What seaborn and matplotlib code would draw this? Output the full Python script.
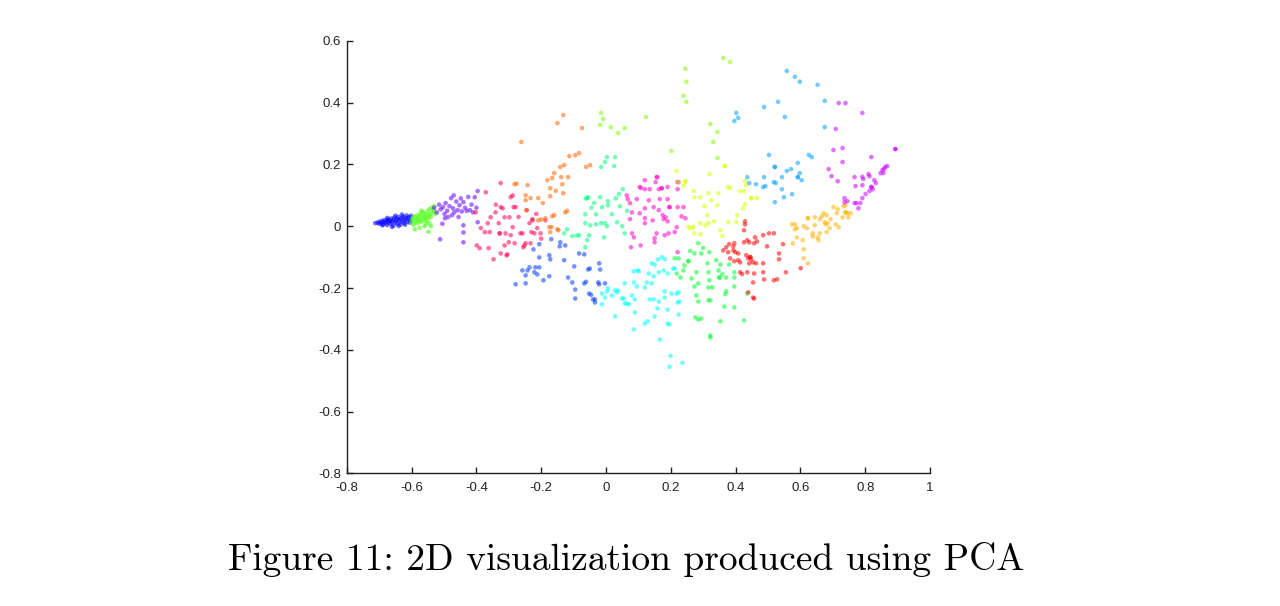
import numpy as np
import pandas as pd
import matplotlib
matplotlib.use("Agg")
import matplotlib.pyplot as plt
import seaborn as sns

# ---- data: PCA 2-D embedding, one list of (x, y) per cluster ----
blue = [(-0.712,0.010),(-0.705,0.012),(-0.700,0.008),(-0.698,0.015),(-0.694,0.011),(-0.690,0.018),(-0.688,0.006),(-0.685,0.014),(-0.682,0.020),(-0.680,0.010),(-0.677,0.016),(-0.675,0.004),(-0.672,0.022),(-0.670,0.013),(-0.668,0.018),(-0.665,0.008),(-0.663,0.025),(-0.660,0.015),(-0.658,0.020),(-0.656,0.002),(-0.653,0.028),(-0.651,0.012),(-0.648,0.018),(-0.646,0.024),(-0.644,0.008),(-0.641,0.030),(-0.639,0.016),(-0.637,0.022),(-0.634,0.005),(-0.632,0.026),(-0.630,0.014),(-0.627,0.032),(-0.625,0.019),(-0.622,0.010),(-0.620,0.028),(-0.618,0.022),(-0.615,0.035),(-0.613,0.015),(-0.610,0.025),(-0.608,0.030),(-0.606,0.012),(-0.603,0.020),(-0.601,0.034),(-0.660,-0.002),(-0.640,0.001),(-0.620,0.005),(-0.690,0.003),(-0.675,0.027),(-0.650,0.034),(-0.630,0.038)]
green = [(-0.600,0.015),(-0.598,0.025),(-0.595,0.005),(-0.592,0.030),(-0.590,0.018),(-0.587,0.010),(-0.585,0.035),(-0.582,0.022),(-0.580,0.028),(-0.578,0.012),(-0.575,0.040),(-0.573,0.020),(-0.570,0.032),(-0.568,0.015),(-0.565,0.045),(-0.563,0.025),(-0.560,0.038),(-0.558,0.030),(-0.555,0.018),(-0.552,0.048),(-0.550,0.035),(-0.548,0.025),(-0.545,0.055),(-0.543,0.040),(-0.540,0.030),(-0.538,0.060),(-0.535,0.045),(-0.532,0.052),(-0.530,0.065),(-0.527,0.040),(-0.545,0.010),(-0.560,0.000),(-0.575,-0.005),(-0.590,-0.010),(-0.548,-0.018),(-0.540,0.000),(-0.555,0.008),(-0.570,0.050)]
violet = [(-0.530,0.060),(-0.522,0.045),(-0.515,0.070),(-0.510,0.055),(-0.503,0.062),(-0.498,0.040),(-0.495,0.075),(-0.490,0.050),(-0.487,0.030),(-0.483,0.065),(-0.478,0.091),(-0.475,0.036),(-0.472,0.058),(-0.468,0.045),(-0.462,0.080),(-0.458,0.052),(-0.452,0.068),(-0.448,0.090),(-0.445,0.048),(-0.440,0.078),(-0.440,0.003),(-0.440,-0.020),(-0.440,-0.052),(-0.512,-0.042),(-0.435,0.060),(-0.430,0.050),(-0.425,0.095),(-0.420,0.052),(-0.415,0.070),(-0.410,0.045),(-0.405,0.094),(-0.400,0.060),(-0.396,0.114),(-0.396,0.013),(-0.470,0.100),(-0.455,0.030),(-0.497,0.026),(-0.505,0.008)]
pink = [(-0.371,0.110),(-0.402,0.045),(-0.386,-0.006),(-0.374,-0.019),(-0.359,-0.019),(-0.399,-0.062),(-0.390,-0.071),(-0.362,-0.071),(-0.347,-0.107),(-0.356,0.029),(-0.341,0.045),(-0.325,0.140),(-0.331,0.010),(-0.325,0.062),(-0.313,0.029),(-0.310,-0.023),(-0.325,-0.088),(-0.307,-0.094),(-0.298,0.029),(-0.294,0.094),(-0.288,0.100),(-0.288,-0.003),(-0.294,-0.029),(-0.282,-0.055),(-0.300,-0.052),(-0.313,-0.062),(-0.279,0.062),(-0.264,-0.023),(-0.252,-0.062),(-0.255,-0.068),(-0.236,0.010),(-0.230,-0.019),(-0.221,-0.023),(-0.212,-0.006),(-0.233,-0.055),(-0.227,0.019),(-0.202,-0.023),(-0.187,0.019),(-0.328,-0.023),(-0.328,-0.023),(-0.285,0.062),(-0.258,-0.023),(-0.248,-0.055),(-0.227,0.023),(-0.245,0.052),(-0.304,-0.091),(-0.340,0.070),(-0.365,0.010),(-0.270,0.030),(-0.200,-0.040),(-0.215,0.040),(-0.319,0.058)]
orange = [(-0.261,0.273),(-0.282,0.136),(-0.276,0.138),(-0.242,0.133),(-0.248,0.100),(-0.248,0.084),(-0.233,0.091),(-0.209,0.091),(-0.245,0.052),(-0.209,0.019),(-0.200,0.022),(-0.187,0.026),(-0.181,0.149),(-0.166,0.156),(-0.160,0.172),(-0.172,0.097),(-0.172,0.123),(-0.150,0.334),(-0.132,0.360),(-0.074,0.318),(-0.141,0.192),(-0.129,0.198),(-0.138,0.159),(-0.135,0.136),(-0.132,0.107),(-0.113,0.227),(-0.095,0.230),(-0.083,0.237),(-0.061,0.192),(-0.049,0.198),(-0.117,0.159),(-0.166,0.032),(-0.160,0.036),(-0.175,-0.003),(-0.168,-0.003),(-0.172,-0.019),(-0.150,-0.010),(-0.126,0.045),(-0.120,0.050),(-0.147,-0.013),(-0.195,0.075),(-0.155,0.115)]
royal = [(-0.169,-0.042),(-0.141,-0.052),(-0.126,-0.062),(-0.143,-0.065),(-0.206,-0.058),(-0.224,-0.075),(-0.175,-0.094),(-0.172,-0.107),(-0.206,-0.101),(-0.236,-0.133),(-0.242,-0.143),(-0.258,-0.143),(-0.248,-0.159),(-0.221,-0.149),(-0.218,-0.133),(-0.206,-0.133),(-0.212,-0.156),(-0.279,-0.188),(-0.248,-0.185),(-0.193,-0.175),(-0.175,-0.162),(-0.129,-0.110),(-0.098,-0.130),(-0.117,-0.166),(-0.104,-0.182),(-0.095,-0.205),(-0.095,-0.234),(-0.083,-0.088),(-0.067,-0.091),(-0.055,-0.140),(-0.050,-0.137),(-0.067,-0.185),(-0.062,-0.180),(-0.052,-0.218),(-0.046,-0.222),(-0.040,-0.237),(-0.034,-0.247),(-0.021,-0.120),(-0.018,-0.140),(-0.024,-0.182),(-0.021,-0.188),(-0.003,-0.185),(-0.034,-0.237)]
aqua = [(-0.015,0.192),(-0.003,0.208),(0.003,0.224),(0.028,0.224),(0.025,0.195),(-0.055,0.094),(-0.062,0.090),(-0.037,0.075),(-0.018,0.094),(-0.045,0.060),(-0.064,0.039),(-0.031,0.039),(-0.012,0.062),(0.006,0.081),(0.006,0.068),(0.018,0.039),(0.040,0.104),(0.030,0.090),(0.052,0.120),(0.043,0.065),(-0.064,0.010),(-0.049,0.003),(-0.031,0.006),(-0.015,0.010),(-0.003,0.010),(0.003,0.000),(0.034,0.013),(0.058,-0.023),(-0.052,-0.029),(-0.058,-0.045),(-0.064,-0.068),(-0.083,-0.029),(-0.104,-0.032),(-0.129,-0.023),(-0.120,-0.010),(-0.006,-0.036),(-0.090,-0.030),(-0.058,0.091),(0.065,0.050),(0.050,0.000)]
lime = [(-0.015,0.367),(-0.009,0.347),(-0.018,0.328),(0.015,0.321),(0.037,0.302),(0.058,0.318),(0.123,0.354),(0.245,0.510),(0.248,0.468),(0.239,0.422),(0.248,0.403),(0.362,0.545),(0.383,0.532),(0.322,0.331),(0.344,0.305),(0.331,0.273),(0.202,0.244),(0.344,0.221)]
magenta = [(0.120,0.149),(0.153,0.143),(0.156,0.159),(0.104,0.127),(0.108,0.124),(0.120,0.120),(0.135,0.120),(0.163,0.120),(0.172,0.123),(0.190,0.127),(0.221,0.143),(0.221,0.120),(0.064,0.100),(0.067,0.088),(0.095,0.088),(0.132,0.084),(0.166,0.088),(0.190,0.088),(0.074,0.075),(0.120,0.058),(0.147,0.062),(0.196,0.062),(0.221,0.062),(0.239,0.062),(0.080,0.045),(0.104,0.042),(0.175,0.036),(0.184,0.029),(0.163,0.052),(0.074,0.023),(0.120,0.026),(0.120,0.010),(0.144,0.019),(0.178,0.023),(0.190,0.016),(0.233,0.032),(0.245,0.026),(0.218,-0.003),(0.080,-0.023),(0.086,-0.036),(0.107,-0.062),(0.077,-0.068),(0.156,-0.023),(0.150,-0.039),(0.150,-0.052),(0.181,-0.029),(0.193,-0.023),(0.212,-0.019),(0.221,-0.084),(0.172,0.123),(0.159,0.159),(0.224,0.143),(0.196,0.062)]
cyan = [(0.172,-0.100),(0.160,-0.107),(0.182,-0.107),(0.150,-0.124),(0.141,-0.120),(0.212,-0.137),(0.178,-0.143),(0.163,-0.149),(0.098,-0.143),(0.086,-0.146),(0.132,-0.153),(0.147,-0.162),(0.190,-0.153),(0.058,-0.185),(0.037,-0.208),(0.028,-0.208),(0.003,-0.211),(0.018,-0.224),(0.086,-0.182),(0.095,-0.195),(0.126,-0.182),(0.141,-0.185),(0.120,-0.198),(0.181,-0.211),(0.202,-0.218),(0.224,-0.214),(0.227,-0.244),(0.221,-0.247),(0.181,-0.231),(0.163,-0.244),(0.147,-0.237),(0.135,-0.237),(0.089,-0.237),(0.080,-0.224),(0.055,-0.234),(0.058,-0.250),(0.071,-0.253),(-0.003,-0.231),(-0.012,-0.253),(0.089,-0.279),(0.190,-0.270),(0.224,-0.286),(0.159,-0.266),(0.150,-0.292),(0.028,-0.292),(0.120,-0.315),(0.129,-0.308),(0.190,-0.315),(0.196,-0.318),(0.086,-0.334),(0.166,-0.367),(0.199,-0.419),(0.196,-0.455),(0.236,-0.442),(0.006,-0.201),(-0.012,-0.218),(0.034,-0.214),(0.049,-0.234),(0.064,-0.250),(0.101,-0.146),(0.218,-0.218),(0.208,-0.137)]
green2 = [(0.254,-0.113),(0.254,-0.113),(0.273,-0.088),(0.294,-0.088),(0.319,-0.084),(0.285,-0.055),(0.212,-0.104),(0.224,-0.104),(0.242,-0.127),(0.239,-0.143),(0.230,-0.166),(0.218,-0.153),(0.264,-0.169),(0.279,-0.149),(0.285,-0.185),(0.273,-0.195),(0.316,-0.149),(0.319,-0.175),(0.316,-0.198),(0.328,-0.198),(0.313,-0.120),(0.340,-0.110),(0.353,-0.124),(0.347,-0.143),(0.350,-0.166),(0.350,-0.166),(0.359,-0.155),(0.371,-0.166),(0.380,-0.124),(0.396,-0.149),(0.396,-0.166),(0.396,-0.195),(0.371,-0.211),(0.368,-0.220),(0.279,-0.224),(0.285,-0.244),(0.316,-0.240),(0.322,-0.240),(0.365,-0.260),(0.396,-0.263),(0.276,-0.295),(0.294,-0.299),(0.285,-0.302),(0.353,-0.308),(0.426,-0.305),(0.322,-0.354),(0.322,-0.360),(0.436,-0.218),(0.300,-0.070),(0.260,-0.080)]
yellow = [(0.224,0.143),(0.245,0.143),(0.270,0.114),(0.273,0.094),(0.291,0.094),(0.316,0.107),(0.347,0.107),(0.319,0.169),(0.368,0.195),(0.377,0.127),(0.383,0.124),(0.414,0.114),(0.426,0.114),(0.429,0.146),(0.433,0.133),(0.448,0.091),(0.466,0.091),(0.429,0.071),(0.304,0.065),(0.325,0.084),(0.344,0.068),(0.313,0.036),(0.334,0.016),(0.405,0.036),(0.402,0.013),(0.377,0.013),(0.255,-0.003),(0.262,-0.006),(0.270,-0.003),(0.291,0.010),(0.307,0.003),(0.316,0.010),(0.273,-0.023),(0.291,-0.026),(0.353,-0.013),(0.359,-0.032),(0.423,0.058),(0.218,0.179),(0.245,0.146),(0.239,0.130),(0.365,0.195),(0.448,0.091)]
red = [(0.371,-0.068),(0.380,-0.058),(0.393,-0.065),(0.396,-0.055),(0.362,-0.078),(0.377,-0.084),(0.393,-0.078),(0.399,-0.084),(0.408,-0.088),(0.383,-0.104),(0.396,-0.113),(0.408,-0.110),(0.414,-0.117),(0.433,-0.094),(0.439,-0.104),(0.445,-0.100),(0.448,-0.107),(0.454,-0.117),(0.442,-0.120),(0.463,-0.120),(0.485,-0.120),(0.426,-0.052),(0.436,-0.045),(0.442,-0.052),(0.457,-0.055),(0.460,-0.036),(0.466,-0.049),(0.485,-0.029),(0.497,-0.065),(0.503,-0.023),(0.518,-0.023),(0.546,-0.058),(0.426,-0.013),(0.429,0.016),(0.429,0.006),(0.414,-0.149),(0.420,-0.155),(0.436,-0.149),(0.457,-0.153),(0.454,-0.182),(0.485,-0.149),(0.488,-0.172),(0.457,-0.234),(0.518,-0.175),(0.528,-0.172),(0.534,-0.088),(0.534,-0.107),(0.555,-0.149),(0.601,-0.136),(0.439,-0.214),(0.454,-0.231),(0.445,-0.100)]
sky = [(0.558,0.503),(0.583,0.484),(0.598,0.468),(0.653,0.458),(0.675,0.406),(0.675,0.321),(0.531,0.403),(0.488,0.386),(0.552,0.354),(0.402,0.367),(0.396,0.341),(0.408,0.351),(0.503,0.231),(0.626,0.231),(0.635,0.224),(0.521,0.192),(0.592,0.205),(0.571,0.185),(0.558,0.179),(0.598,0.172),(0.592,0.159),(0.604,0.149),(0.543,0.159),(0.488,0.159),(0.518,0.143),(0.524,0.140),(0.485,0.127),(0.492,0.130),(0.463,0.136),(0.442,0.140),(0.436,0.159),(0.543,0.120),(0.549,0.094),(0.574,0.104),(0.521,0.078),(0.521,0.192),(0.592,0.159)]
amber = [(0.574,0.006),(0.583,0.006),(0.583,-0.010),(0.589,-0.006),(0.577,-0.055),(0.589,-0.036),(0.607,-0.045),(0.610,-0.075),(0.610,-0.104),(0.623,-0.120),(0.610,0.000),(0.620,-0.006),(0.623,0.026),(0.638,-0.023),(0.638,-0.033),(0.644,0.003),(0.653,-0.036),(0.656,-0.045),(0.660,-0.023),(0.644,0.029),(0.660,0.023),(0.672,0.042),(0.666,0.032),(0.681,0.036),(0.675,0.013),(0.684,0.010),(0.678,0.006),(0.681,-0.019),(0.690,-0.006),(0.693,0.023),(0.702,0.062),(0.712,0.042),(0.718,-0.003),(0.709,0.006),(0.730,0.029),(0.739,0.045),(0.745,0.042),(0.748,0.029),(0.755,0.042),(0.739,0.068),(0.733,0.065),(0.715,0.055),(0.623,0.026),(0.739,0.045)]
purple = [(0.718,0.399),(0.739,0.399),(0.791,0.367),(0.709,0.315),(0.702,0.247),(0.730,0.253),(0.819,0.224),(0.730,0.208),(0.687,0.185),(0.696,0.162),(0.715,0.146),(0.767,0.159),(0.770,0.130),(0.791,0.133),(0.794,0.153),(0.791,0.160),(0.810,0.169),(0.813,0.162),(0.828,0.149),(0.833,0.140),(0.819,0.127),(0.823,0.120),(0.813,0.114),(0.847,0.172),(0.853,0.182),(0.858,0.186),(0.856,0.172),(0.862,0.192),(0.868,0.195),(0.893,0.250),(0.801,0.104),(0.791,0.091),(0.785,0.075),(0.773,0.075),(0.767,0.075),(0.779,0.058),(0.736,0.091),(0.745,0.081),(0.736,0.078),(0.819,0.127),(0.893,0.250)]

cluster_names = ["blue", "green", "violet", "pink", "orange", "royal", "aqua", "lime",
                 "magenta", "cyan", "green2", "yellow", "red", "sky", "amber", "purple"]
cluster_points = [blue, green, violet, pink, orange, royal, aqua, lime,
                  magenta, cyan, green2, yellow, red, sky, amber, purple]
cluster_colors = ["#0000ff", "#3cff00", "#6400ff", "#ff0050", "#ff6400", "#003cff",
                  "#00ff80", "#82ff00", "#ff00c8", "#00ffff", "#00ff32", "#dcff00",
                  "#ff0000", "#00a0ff", "#ffb400", "#c800ff"]

x_ticks = [-0.8, -0.6, -0.4, -0.2, 0, 0.2, 0.4, 0.6, 0.8, 1]
x_tick_labels = ["-0.8", "-0.6", "-0.4", "-0.2", "0", "0.2", "0.4", "0.6", "0.8", "1"]
y_ticks = [-0.8, -0.6, -0.4, -0.2, 0, 0.2, 0.4, 0.6]
y_tick_labels = ["-0.8", "-0.6", "-0.4", "-0.2", "0", "0.2", "0.4", "0.6"]
caption = "Figure 11: 2D visualization produced using PCA"

rows = []
for name, pts in zip(cluster_names, cluster_points):
    for (px, py) in pts:
        rows.append({"x": px, "y": py, "cluster": name})
df = pd.DataFrame(rows)
palette = dict(zip(cluster_names, cluster_colors))

sns.set_style("white")
plt.rcParams["font.family"] = ["Liberation Sans", "DejaVu Sans"]
plt.rcParams["axes.unicode_minus"] = False

fig = plt.figure(figsize=(12.8, 6.06), dpi=100)
ax = fig.add_axes([0.2709, 0.219, 0.4557, 0.7134])

sns.scatterplot(data=df, x="x", y="y", hue="cluster", palette=palette,
                marker="o", s=11, alpha=0.55, linewidth=0, legend=False, ax=ax)

ax.set_xlim(-0.8, 1)
ax.set_ylim(-0.8, 0.6)
ax.set_xticks(x_ticks)
ax.set_xticklabels(x_tick_labels)
ax.set_yticks(y_ticks)
ax.set_yticklabels(y_tick_labels)
ax.set_xlabel("")
ax.set_ylabel("")
for side in ["top", "right"]:
    ax.spines[side].set_visible(False)
for side in ["left", "bottom"]:
    ax.spines[side].set_color("#222222")
    ax.spines[side].set_linewidth(1.0)
ax.tick_params(direction="in", length=4.5, width=1.0, colors="#222222",
               labelsize=9.5, left=True, bottom=True)
ax.tick_params(axis="x", pad=6)
ax.tick_params(axis="y", pad=4)

fig.text(0.489, 0.076, caption, family="cmr10", fontsize=27,
         ha="center", va="center", color="black")

fig.savefig("out.png", dpi=100, facecolor="white")
